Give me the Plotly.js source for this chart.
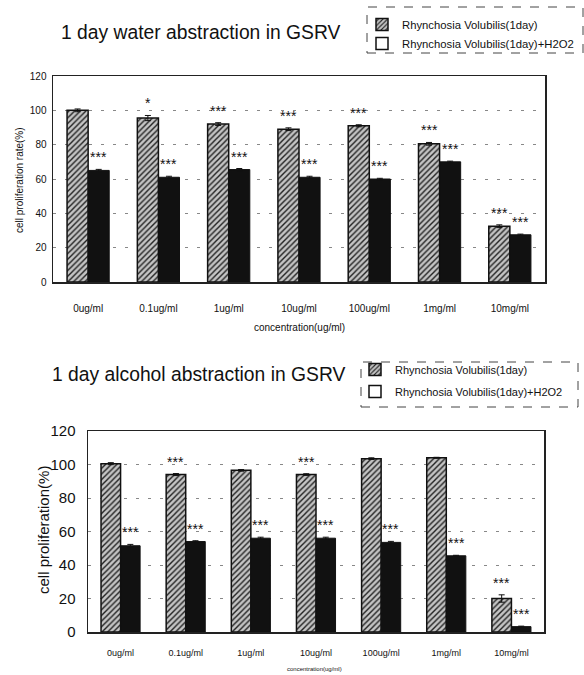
<!DOCTYPE html>
<html>
<head>
<meta charset="utf-8">
<script src="https://cdn.plot.ly/plotly-3.0.1.min.js"></script>
<style>html,body{margin:0;padding:0;background:#fff;}#chart{width:584px;height:675px;}</style>
</head>
<body>
<div id="chart"></div>
<script>
// ---------- data ----------
const categories = ["0ug/ml", "0.1ug/ml", "1ug/ml", "10ug/ml", "100ug/ml", "1mg/ml", "10mg/ml"];
const seriesNames = ["Rhynchosia Volubilis(1day)", "Rhynchosia Volubilis(1day)+H2O2"];

const waterRV = [100, 95.5, 92, 89, 91, 80.5, 32.5];
const waterRVErr = [0.8, 1.5, 0.8, 0.8, 0.6, 0.8, 0.8];
const waterH2O2 = [65, 61, 65.5, 61, 60, 70, 27.5];
const waterH2O2Err = [0.6, 0.6, 0.6, 0.6, 0.4, 0.4, 0.4];
const waterRVSig = ["", "*", "***", "***", "***", "***", "***"];
const waterH2O2Sig = ["***", "***", "***", "***", "***", "***", "***"];

const alcoholRV = [100.5, 94, 96.5, 94, 103.5, 104, 20];
const alcoholRVErr = [0.6, 0.6, 0.5, 0.5, 0.5, 0.3, 2.2];
const alcoholH2O2 = [51.5, 54, 56, 56, 53.5, 45.5, 3.2];
const alcoholH2O2Err = [0.8, 0.5, 0.6, 0.6, 0.6, 0.3, 0.3];
const alcoholRVSig = ["", "***", "", "***", "", "", "***"];
const alcoholH2O2Sig = ["***", "***", "***", "***", "***", "***", "***"];

const yTicks = [0, 20, 40, 60, 80, 100, 120];

// ---------- helpers ----------
const W = 584, H = 675;
const px = v => v / W;
const py = v => 1 - v / H;
const FONT = "Liberation Sans, Arial, sans-serif";

const hatch = {color: "#c4c4c4", line: {color: "#111", width: 1.5},
  pattern: {shape: "/", fgcolor: "#222", bgcolor: "#c4c4c4", size: 4, solidity: 0.35}};
const solid = {color: "#111", line: {color: "#111", width: 1}};
const whiteBox = {color: "#fff", line: {color: "#111", width: 1.5}};
const errStyle = arr => ({type: "data", array: arr, visible: true, color: "#111", thickness: 1, width: 3});

function bars(vals, errs, marker, xa, ya, grp) {
  return {type: "bar", x: categories, y: vals, xaxis: xa, yaxis: ya, marker: marker, offsetgroup: grp,
    error_y: errStyle(errs), showlegend: false, hoverinfo: "skip"};
}
function legendTrace(name, marker, xa, ya, leg, grp) {
  return {type: "bar", x: [null], y: [null], xaxis: xa, yaxis: ya, name: name, marker: marker,
    offsetgroup: grp, legend: leg, legendgroup: leg + grp, showlegend: true};
}

const traces = [
  bars(waterRV, waterRVErr, hatch, "x", "y", "a"),
  bars(waterH2O2, waterH2O2Err, solid, "x", "y", "b"),
  bars(alcoholRV, alcoholRVErr, hatch, "x2", "y2", "a"),
  bars(alcoholH2O2, alcoholH2O2Err, solid, "x2", "y2", "b"),
  legendTrace(seriesNames[0], hatch, "x", "y", "legend", "a"),
  legendTrace(seriesNames[1], whiteBox, "x", "y", "legend", "b"),
  legendTrace(seriesNames[0], hatch, "x2", "y2", "legend2", "a"),
  legendTrace(seriesNames[1], whiteBox, "x2", "y2", "legend2", "b")
];

// significance stars
const annotations = [];
function stars(sig, vals, errs, off, xr, yr, shift) {
  sig.forEach((s, i) => {
    if (!s) return;
    annotations.push({xref: xr, yref: yr, x: i + off, y: vals[i] + errs[i], text: s, showarrow: false,
      xanchor: "center", yanchor: "middle", yshift: shift, font: {family: FONT, size: 14, color: "#111"}});
  });
}
stars(waterRVSig, waterRV, waterRVErr, -0.15, "x", "y", 12);
stars(waterH2O2Sig, waterH2O2, waterH2O2Err, 0.15, "x", "y", 12);
stars(alcoholRVSig, alcoholRV, alcoholRVErr, -0.15, "x2", "y2", 12);
stars(alcoholH2O2Sig, alcoholH2O2, alcoholH2O2Err, 0.15, "x2", "y2", 12);

function txt(x, y, text, size, angle) {
  return {xref: "paper", yref: "paper", x: px(x), y: py(y), text: text, showarrow: false,
    xanchor: "center", yanchor: "middle", textangle: angle || 0, font: {family: FONT, size: size, color: "#111"}};
}
annotations.push(
  txt(201, 32, "1 day water abstraction in GSRV", 19.3),
  txt(199, 374, "1 day alcohol abstraction in GSRV", 19.3),
  txt(20, 180, "cell proliferation rate(%)", 10, -90),
  txt(299, 327, "concentration(ug/ml)", 10),
  txt(43, 530, "cell proliferation(%)", 15, -90),
  txt(314, 669, "concentration(ug/ml)", 6)
);

const gridCommon = {showgrid: true, gridcolor: "#888", griddash: "3px,9px", gridwidth: 1};

const layout = {
  width: W, height: H, margin: {l: 0, r: 0, t: 0, b: 0},
  paper_bgcolor: "#fff", plot_bgcolor: "#fff",
  font: {family: FONT, color: "#111"},
  barmode: "group", bargap: 0.4, bargroupgap: 0,
  xaxis: {domain: [px(53), px(545)], anchor: "y", type: "category", showline: true, mirror: true,
    linecolor: "#222", linewidth: 1.5, ticks: "", ticklabelstandoff: 16, tickfont: {size: 10, family: FONT}},
  yaxis: Object.assign({domain: [py(282), py(76)], anchor: "x", range: [0, 120], tickvals: yTicks, showline: true, mirror: true,
    linecolor: "#222", linewidth: 1.5, ticks: "", ticklabelstandoff: 3, tickfont: {size: 10, family: FONT}, zeroline: false}, gridCommon),
  xaxis2: {domain: [px(88), px(544)], anchor: "y2", type: "category", showline: true, mirror: true,
    linecolor: "#222", linewidth: 1.5, ticks: "", ticklabelstandoff: 12, tickfont: {size: 9, family: FONT}},
  yaxis2: Object.assign({domain: [py(632), py(431)], anchor: "x2", range: [0, 120], tickvals: yTicks, showline: true, mirror: true,
    linecolor: "#222", linewidth: 1.5, ticks: "", ticklabelstandoff: 8, tickfont: {size: 15, family: FONT}, zeroline: false}, gridCommon),
  legend: {x: px(362), y: py(10), xanchor: "left", yanchor: "top", bgcolor: "rgba(0,0,0,0)", borderwidth: 0,
    font: {size: 11.3, family: FONT}, itemwidth: 30, tracegroupgap: 0, traceorder: "grouped"},
  legend2: {x: px(355), y: py(355), xanchor: "left", yanchor: "top", bgcolor: "rgba(0,0,0,0)", borderwidth: 0,
    font: {size: 11, family: FONT}, itemwidth: 30, tracegroupgap: 3, traceorder: "grouped"},
  shapes: [
    {type: "rect", xref: "paper", yref: "paper", x0: px(367), x1: px(583), y0: py(53), y1: py(7),
     line: {color: "#444", width: 1, dash: "dash"}},
    {type: "rect", xref: "paper", yref: "paper", x0: px(361), x1: px(578), y0: py(407), y1: py(362),
     line: {color: "#444", width: 1, dash: "dash"}}
  ],
  annotations: annotations
};

Plotly.newPlot("chart", traces, layout, {staticPlot: true, displayModeBar: false});
</script>
</body>
</html>
